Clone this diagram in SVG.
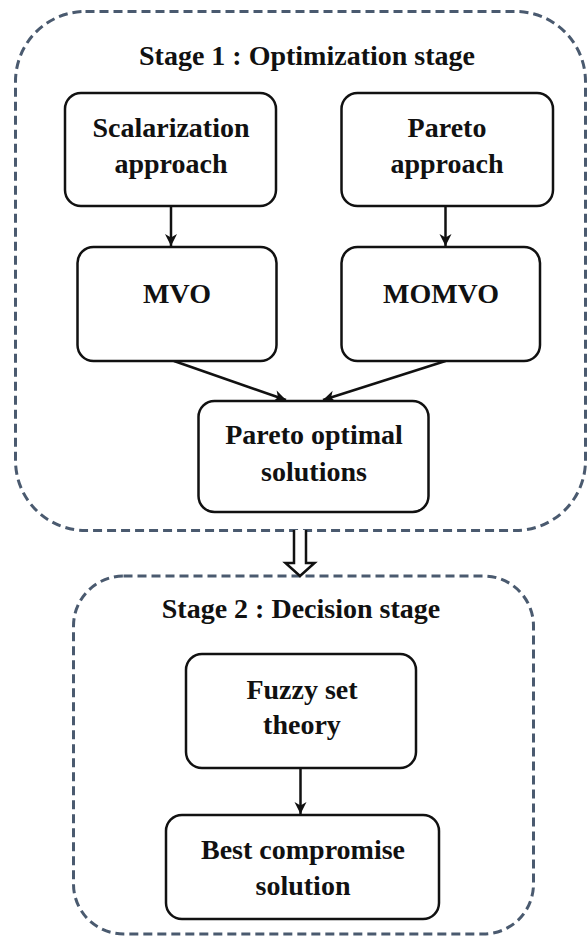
<svg xmlns="http://www.w3.org/2000/svg" width="587" height="936" viewBox="0 0 587 936">
<style>
.stage{fill:none;stroke:#4a5a6f;stroke-width:3;stroke-dasharray:9 5}
.box{fill:#fff;stroke:#111;stroke-width:2.5}
.t{font-family:"Liberation Serif","Times New Roman",serif;font-weight:bold;font-size:28px;fill:#111;text-anchor:middle}
.conn{stroke:#111;stroke-width:2.5;fill:none}
</style>
<defs>
<marker id="ah" markerUnits="userSpaceOnUse" markerWidth="14" markerHeight="14" viewBox="-13 -7 14 14" refX="0" refY="0" orient="auto">
<path d="M0,0 L-12,-6 L-8.5,0 L-12,6 Z" fill="#111"/>
</marker>
</defs>
<g id="stage1">
<rect class="stage" x="15.5" y="11.5" width="570" height="519" rx="70" ry="70"/>
<text class="t" x="307" y="65">Stage 1 : Optimization stage</text>
</g>
<g id="stage2">
<rect class="stage" x="73.5" y="576" width="460" height="358" rx="50" ry="50"/>
<text class="t" x="301" y="618">Stage 2 : Decision stage</text>
</g>
<g id="connectors">
<line class="conn" x1="171" y1="206" x2="171" y2="246" marker-end="url(#ah)"/>
<line class="conn" x1="445.5" y1="206" x2="445.5" y2="246" marker-end="url(#ah)"/>
<line class="conn" x1="174" y1="361" x2="286" y2="400" marker-end="url(#ah)"/>
<line class="conn" x1="445.5" y1="361" x2="323" y2="400" marker-end="url(#ah)"/>
<line class="conn" x1="300.5" y1="768" x2="300.5" y2="814" marker-end="url(#ah)"/>
<path d="M294,530 L294,563 L285.5,563 L300,576 L314.5,563 L306,563 L306,530" fill="#fff" stroke="#111" stroke-width="2.5" stroke-linejoin="miter"/>
</g>
<g id="scalarization">
<rect class="box" x="65" y="93" width="211" height="113" rx="16" ry="16"/>
<text class="t" x="171" y="137">Scalarization</text>
<text class="t" x="171" y="173">approach</text>
</g>
<g id="pareto-approach">
<rect class="box" x="341.5" y="93" width="211.5" height="113" rx="16" ry="16"/>
<text class="t" x="447" y="137">Pareto</text>
<text class="t" x="447" y="173">approach</text>
</g>
<g id="mvo">
<rect class="box" x="77.5" y="247" width="199" height="114" rx="16" ry="16"/>
<text class="t" x="177" y="303">MVO</text>
</g>
<g id="momvo">
<rect class="box" x="341.5" y="247" width="198.5" height="114" rx="16" ry="16"/>
<text class="t" x="441" y="303">MOMVO</text>
</g>
<g id="pareto-optimal">
<rect class="box" x="198.5" y="401" width="230" height="111" rx="16" ry="16"/>
<text class="t" x="314" y="444">Pareto optimal</text>
<text class="t" x="314" y="481">solutions</text>
</g>
<g id="fuzzy">
<rect class="box" x="186" y="654" width="230" height="114" rx="16" ry="16"/>
<text class="t" x="302" y="699">Fuzzy set</text>
<text class="t" x="302" y="734">theory</text>
</g>
<g id="best">
<rect class="box" x="166" y="815" width="273" height="104" rx="16" ry="16"/>
<text class="t" x="303" y="859">Best compromise</text>
<text class="t" x="303" y="895">solution</text>
</g>
</svg>
